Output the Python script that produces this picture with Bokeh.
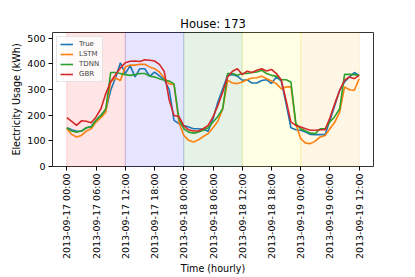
from bokeh.plotting import figure
from bokeh.models import BoxAnnotation, Range1d, FixedTicker, Legend, LegendItem
from bokeh.embed import file_html
from bokeh.resources import INLINE
import math

hours = list(range(61))
true_vals = [151, 143, 137, 138, 151, 156, 180, 199, 219, 297, 346, 404, 362, 393, 349, 381, 381, 352, 368, 353,
             338, 300, 180, 167, 160, 154, 147, 147, 145, 137, 186, 251, 303, 355, 358, 352, 336, 338, 325, 325,
             335, 338, 323, 349, 333, 245, 151, 143, 141, 134, 125, 124, 124, 124, 180, 238, 297, 329, 349, 366, 355]
lstm_vals = [147, 125, 115, 121, 138, 147, 173, 190, 212, 330, 345, 335, 388, 395, 395, 398, 398, 388, 381, 368,
             345, 322, 320, 173, 121, 102, 95, 104, 117, 128, 151, 176, 225, 336, 325, 323, 329, 338, 345, 346,
             352, 342, 333, 323, 303, 310, 310, 167, 108, 91, 89, 99, 115, 121, 147, 173, 212, 310, 299, 297, 342]
tdnn_vals = [151, 138, 134, 138, 151, 154, 180, 199, 225, 366, 366, 362, 358, 355, 358, 362, 362, 352, 349, 342,
             336, 333, 322, 186, 147, 134, 130, 134, 141, 151, 173, 195, 225, 362, 362, 355, 362, 362, 366, 368,
             375, 362, 355, 352, 338, 338, 329, 167, 147, 138, 130, 128, 147, 147, 173, 195, 225, 359, 359, 358, 355]
gbr_vals = [190, 176, 160, 178, 176, 170, 193, 225, 284, 330, 358, 384, 404, 410, 411, 409, 416, 414, 411, 398,
            370, 260, 199, 195, 158, 143, 138, 138, 147, 160, 193, 238, 290, 349, 371, 381, 358, 371, 366, 375,
            381, 372, 378, 362, 338, 258, 173, 160, 154, 147, 141, 141, 143, 143, 190, 245, 297, 336, 349, 342, 355]

series_names = ["True", "LSTM", "TDNN", "GBR"]
series_colors = ["#1f77b4", "#ff7f0e", "#2ca02c", "#d62728"]

tick_hours = [0, 6, 12, 18, 24, 30, 36, 42, 48, 54, 60]
tick_labels = ["2013-09-17 00:00", "2013-09-17 06:00", "2013-09-17 12:00", "2013-09-17 18:00",
               "2013-09-18 00:00", "2013-09-18 06:00", "2013-09-18 12:00", "2013-09-18 18:00",
               "2013-09-19 00:00", "2013-09-19 06:00", "2013-09-19 12:00"]

band_edges = [0, 12, 24, 36, 48, 60]
band_colors = ["red", "blue", "green", "yellow", "orange"]

FONT = "DejaVu Sans"

p = figure(frame_width=321, frame_height=134, output_backend="svg", toolbar_location=None,
           x_range=Range1d(-2.94, 62.94), y_range=Range1d(0, 522),
           min_border_left=52, min_border_right=34, min_border_top=32, min_border_bottom=100,
           title="House: 173")
p.title.align = "center"
p.title.text_font = FONT
p.title.text_font_size = "11.5px"
p.title.text_font_style = "normal"
p.title.text_color = "black"
p.title.standoff = 3

for i, c in enumerate(band_colors):
    p.add_layout(BoxAnnotation(left=band_edges[i], right=band_edges[i + 1],
                               fill_color=c, fill_alpha=0.1,
                               line_color=c, line_alpha=0.15, line_width=1, level="underlay"))

vals = [true_vals, lstm_vals, tdnn_vals, gbr_vals]
renderers = []
for name, col, v in zip(series_names, series_colors, vals):
    r = p.line(hours, v, line_color=col, line_width=1.6)
    renderers.append(r)

legend = Legend(items=[LegendItem(label=n, renderers=[r]) for n, r in zip(series_names, renderers)],
                location="top_left")
legend.label_text_font = FONT
legend.label_text_font_size = "7px"
legend.label_height = 8
legend.glyph_height = 8
legend.glyph_width = 13
legend.label_standoff = 6
legend.spacing = 2
legend.padding = 3
legend.margin = 4
legend.border_line_color = "#cccccc"
legend.background_fill_alpha = 0.8
p.add_layout(legend)

p.xgrid.visible = False
p.ygrid.visible = False
p.outline_line_color = "#333333"
p.outline_line_width = 1

p.xaxis.ticker = FixedTicker(ticks=tick_hours)
p.xaxis.major_label_overrides = {h: l for h, l in zip(tick_hours, tick_labels)}
p.xaxis.major_label_orientation = math.pi / 2
p.yaxis.ticker = FixedTicker(ticks=[0, 100, 200, 300, 400, 500])

for ax in (p.xaxis, p.yaxis):
    ax.minor_tick_line_color = None
    ax.major_tick_in = 0
    ax.major_tick_out = 4
    ax.major_label_standoff = 3
    ax.major_label_text_font = FONT
    ax.major_label_text_font_size = "9.5px"
    ax.major_label_text_color = "black"
    ax.axis_label_text_font = FONT
    ax.axis_label_text_font_size = "9.6px"
    ax.axis_label_text_font_style = "normal"
    ax.axis_label_text_color = "black"
    ax.axis_line_color = None
    ax.major_tick_line_color = "black"

p.xaxis.axis_label = "Time (hourly)"
p.yaxis.axis_label = "Electricity Usage (kWh)"
p.xaxis.axis_label_standoff = 1
p.yaxis.axis_label_standoff = 2

open("out.html", "w").write(file_html(p, INLINE))
